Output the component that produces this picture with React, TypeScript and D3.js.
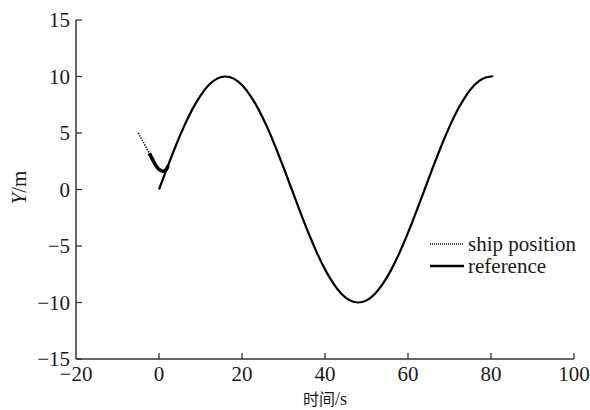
import React from "react";
import * as d3 from "d3";

const refT = [0, 2, 4, 6, 8, 10, 12, 14, 16, 18, 20, 22, 24, 26, 28, 30, 32, 34, 36, 38, 40, 42, 44, 46, 48, 50, 52, 54, 56, 58, 60, 62, 64, 66, 68, 70, 72, 74, 76, 78, 80, 80.5];
const refY = [0, 1.95, 3.83, 5.56, 7.07, 8.31, 9.24, 9.81, 10, 9.81, 9.24, 8.31, 7.07, 5.56, 3.83, 1.95, 0, -1.95, -3.83, -5.56, -7.07, -8.31, -9.24, -9.81, -10, -9.81, -9.24, -8.31, -7.07, -5.56, -3.83, -1.95, 0, 1.95, 3.83, 5.56, 7.07, 8.31, 9.24, 9.81, 10, 9.99];

const shipX = [-5.0, -4.6, -4.2, -3.8, -3.4, -3.0, -2.7, -2.3, -1.9, -1.4, -0.9, -0.4, 0.1, 0.6, 1.0, 1.4, 1.8, 2.2];
const shipY = [5.0, 4.73, 4.47, 4.2, 3.93, 3.66, 3.45, 3.2, 2.9, 2.55, 2.2, 1.95, 1.75, 1.65, 1.62, 1.66, 1.8, 2.1];
const shipDenseStart = 7;

const xTicks = [-20, 0, 20, 40, 60, 80, 100];
const yTicks = [-15, -10, -5, 0, 5, 10, 15];
const legendLabels = ["ship position", "reference"];

const fmt = (v: number) => (v < 0 ? "\u2212" + Math.abs(v) : String(v));

export default function App() {
  const left = 76, right = 574, top = 20, bottom = 359;
  const x = d3.scaleLinear().domain([-20, 100]).range([left, right]);
  const y = d3.scaleLinear().domain([-15, 15]).range([bottom, top]);
  const line = d3
    .line<[number, number]>()
    .x((d) => x(d[0]))
    .y((d) => y(d[1]))
    .curve(d3.curveNatural);

  const refPts: [number, number][] = refT.map((t, i) => [t, refY[i]]);
  const shipPts: [number, number][] = shipX.map((t, i) => [t, shipY[i]]);
  const shipSparse = shipPts.slice(0, shipDenseStart + 1);
  const shipDense = shipPts.slice(shipDenseStart);

  const serif = "Liberation Serif";
  const axisColor = "#333";
  const textColor = "#1a1a1a";

  return (
    <svg width={590} height={410} style={{ position: "absolute", left: 0, top: 0, background: "#fff" }}>
      {/* axes */}
      <line x1={left} x2={left} y1={top} y2={bottom} stroke={axisColor} strokeWidth={1.5} />
      <line x1={left} x2={right} y1={bottom} y2={bottom} stroke={axisColor} strokeWidth={1.5} />
      {yTicks.map((t) => (
        <g key={"y" + t}>
          <line x1={left} x2={left + 6} y1={y(t)} y2={y(t)} stroke={axisColor} strokeWidth={1.3} />
          <text x={left - 6} y={y(t)} dy="0.34em" textAnchor="end" fontSize={21} fill={textColor} fontFamily={serif}>
            {fmt(t)}
          </text>
        </g>
      ))}
      {xTicks.map((t) => (
        <g key={"x" + t}>
          {t !== -20 && <line x1={x(t)} x2={x(t)} y1={bottom} y2={bottom - 6} stroke={axisColor} strokeWidth={1.3} />}
          <text x={x(t)} y={381} textAnchor="middle" fontSize={21} fill={textColor} fontFamily={serif}>
            {fmt(t)}
          </text>
        </g>
      ))}
      <text x={(left + right) / 2} y={405} textAnchor="middle" fontSize={16} fill={textColor} fontFamily="Noto Sans CJK SC">
        时间<tspan fontFamily={serif} fontSize={18}>/s</tspan>
      </text>
      <text transform={`translate(26, ${y(0) - 2}) rotate(-90)`} textAnchor="middle" fontSize={21} fill={textColor} fontFamily={serif}>
        <tspan fontStyle="italic">Y</tspan>/m
      </text>

      {/* reference */}
      <path d={line(refPts) || ""} fill="none" stroke="#000" strokeWidth={2.2} />
      {/* ship */}
      <path d={line(shipSparse) || ""} fill="none" stroke="#000" strokeWidth={1.6} strokeDasharray="1.3,1.3" />
      <path d={line(shipDense) || ""} fill="none" stroke="#000" strokeWidth={3.6} />

      {/* legend */}
      <line x1={430} x2={464} y1={244} y2={244} stroke="#000" strokeWidth={1.5} strokeDasharray="1,1" />
      <line x1={430} x2={464} y1={266} y2={266} stroke="#000" strokeWidth={2.5} />
      <text x={468} y={244} dy="0.33em" fontSize={21} fill={textColor} fontFamily={serif}>{legendLabels[0]}</text>
      <text x={468} y={266} dy="0.33em" fontSize={21} fill={textColor} fontFamily={serif}>{legendLabels[1]}</text>
    </svg>
  );
}
